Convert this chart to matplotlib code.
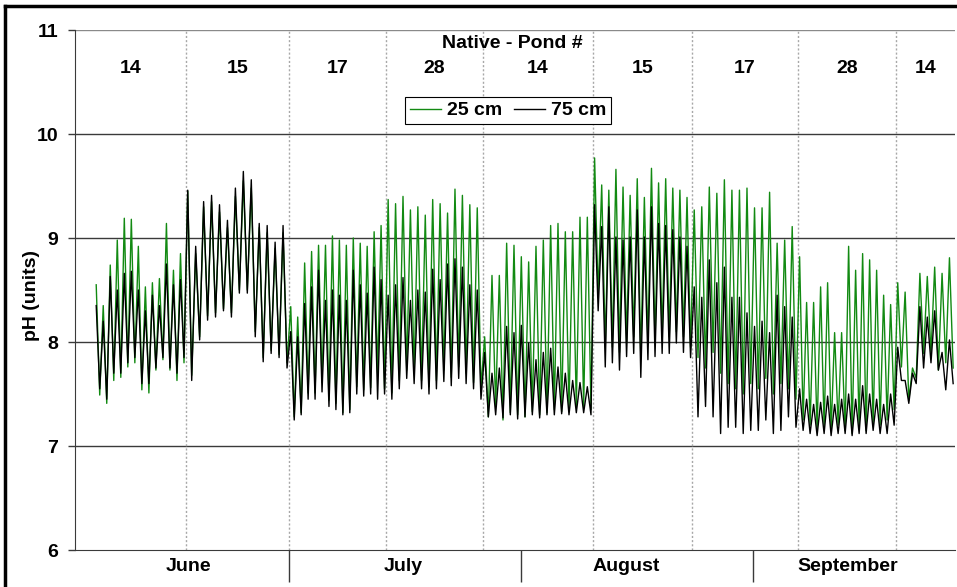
import matplotlib
matplotlib.use('Agg')
import matplotlib.pyplot as plt
import matplotlib.transforms as mtrans
from matplotlib.lines import Line2D

plt.rcParams['font.family'] = ['Liberation Sans', 'DejaVu Sans']
plt.rcParams['font.weight'] = 'bold'
plt.rcParams['font.size'] = 14

# time axis: days counted from July 1
x_range = (-28.6, 89.0)
pond_edges = [-26.0, -13.8, 0.0, 13.0, 25.9, 40.6, 53.9, 68.0, 81.1, 89.0]
pond_names = ['14', '15', '17', '28', '14', '15', '17', '28', '14']
month_names = ['June', 'July', 'August', 'September']
month_label_x = [-13.5, 15.2, 45.0, 74.7]
month_starts = [0, 31, 62]

# daily afternoon highs / dawn lows of pH, one list per pond deployment
hi_25 = [
    [8.55, 8.35, 8.74, 8.98, 9.19, 9.18, 8.92, 8.53, 8.57, 8.61, 9.14, 8.69, 8.85],
    [9.45, 8.85, 9.30, 9.35, 9.25, 9.10, 9.40, 9.55, 9.48, 9.10, 9.05, 8.90, 9.05],
    [8.34, 8.24, 8.76, 8.87, 8.93, 8.93, 9.02, 8.98, 8.93, 9.00, 8.95, 8.92, 9.06, 9.12],
    [9.37, 9.33, 9.40, 9.27, 9.30, 9.22, 9.37, 9.33, 9.24, 9.47, 9.41, 9.32, 9.29],
    [8.05, 8.64, 8.64, 8.95, 8.93, 8.82, 8.77, 8.92, 8.98, 9.12, 9.14, 9.06, 9.06, 9.20, 9.20],
    [9.77, 9.51, 9.46, 9.66, 9.49, 9.41, 9.57, 9.39, 9.67, 9.53, 9.57, 9.48, 9.46, 9.39],
    [9.27, 9.30, 9.49, 9.43, 9.56, 9.46, 9.46, 9.48, 9.29, 9.29, 9.44, 8.95, 8.98, 9.11],
    [8.82, 8.38, 8.38, 8.53, 8.57, 8.09, 8.09, 8.92, 8.69, 8.85, 8.79, 8.69, 8.45, 8.36],
    [8.57, 8.48, 7.75, 8.66, 8.63, 8.72, 8.66, 8.81],
]
lo_25 = [
    [7.49, 7.41, 7.63, 7.66, 7.76, 7.80, 7.54, 7.51, 7.73, 7.83, 7.73, 7.63, 7.80],
    [7.68, 8.05, 8.25, 8.28, 8.32, 8.28, 8.50, 8.50, 8.10, 7.85, 7.92, 7.88, 7.80],
    [7.28, 7.32, 7.51, 7.51, 7.61, 7.44, 7.41, 7.32, 7.35, 7.57, 7.54, 7.56, 7.70, 7.55],
    [7.51, 7.63, 7.73, 7.70, 7.63, 7.57, 7.63, 7.73, 7.66, 7.76, 7.70, 7.61, 7.55],
    [7.28, 7.38, 7.25, 7.32, 7.30, 7.28, 7.33, 7.30, 7.32, 7.35, 7.33, 7.36, 7.38, 7.38, 7.35],
    [8.45, 7.95, 7.95, 7.90, 8.00, 8.05, 7.85, 8.00, 8.00, 8.05, 8.05, 8.10, 8.05, 7.95],
    [7.85, 7.75, 7.90, 7.70, 7.60, 7.55, 7.50, 7.60, 7.55, 7.65, 7.50, 7.60, 7.55, 7.45],
    [7.25, 7.20, 7.15, 7.18, 7.15, 7.20, 7.15, 7.12, 7.18, 7.15, 7.20, 7.20, 7.25, 7.35],
    [7.76, 7.44, 7.65, 7.89, 7.89, 7.73, 7.80, 7.75],
]
hi_75 = [
    [8.35, 8.20, 8.63, 8.50, 8.66, 8.68, 8.50, 8.30, 8.45, 8.35, 8.75, 8.55, 8.60],
    [9.46, 8.92, 9.35, 9.41, 9.32, 9.17, 9.48, 9.64, 9.56, 9.14, 9.12, 8.96, 9.12],
    [8.10, 8.05, 8.37, 8.53, 8.69, 8.40, 8.50, 8.45, 8.40, 8.69, 8.55, 8.47, 8.72, 8.60],
    [8.45, 8.55, 8.62, 8.40, 8.50, 8.48, 8.70, 8.60, 8.75, 8.80, 8.72, 8.55, 8.50],
    [7.90, 7.70, 7.75, 8.15, 8.09, 8.16, 7.99, 7.83, 7.90, 7.94, 7.76, 7.70, 7.63, 7.61, 7.57],
    [9.32, 9.11, 9.30, 9.01, 8.98, 9.01, 9.27, 9.01, 9.30, 9.14, 9.12, 9.08, 9.01, 8.92],
    [8.53, 8.43, 8.79, 8.57, 8.72, 8.43, 8.43, 8.28, 8.15, 8.20, 8.09, 8.45, 8.34, 8.24],
    [7.55, 7.45, 7.40, 7.42, 7.48, 7.40, 7.45, 7.50, 7.45, 7.58, 7.50, 7.45, 7.40, 7.50],
    [7.95, 7.63, 7.70, 8.34, 8.24, 8.30, 7.90, 8.02],
]
lo_75 = [
    [7.55, 7.45, 7.70, 7.70, 7.80, 7.85, 7.60, 7.60, 7.75, 7.85, 7.75, 7.70, 7.85],
    [7.63, 8.02, 8.21, 8.24, 8.30, 8.24, 8.47, 8.47, 8.05, 7.81, 7.89, 7.85, 7.75],
    [7.25, 7.30, 7.45, 7.45, 7.52, 7.38, 7.35, 7.30, 7.32, 7.50, 7.48, 7.50, 7.45, 7.50],
    [7.45, 7.55, 7.65, 7.60, 7.55, 7.50, 7.55, 7.62, 7.58, 7.65, 7.60, 7.55, 7.45],
    [7.28, 7.30, 7.27, 7.30, 7.26, 7.28, 7.30, 7.27, 7.30, 7.30, 7.31, 7.30, 7.32, 7.32, 7.30],
    [8.30, 7.76, 7.80, 7.73, 7.86, 7.89, 7.66, 7.83, 7.86, 7.89, 7.89, 7.99, 7.90, 7.85],
    [7.28, 7.38, 7.28, 7.12, 7.18, 7.18, 7.12, 7.15, 7.15, 7.25, 7.12, 7.15, 7.28, 7.18],
    [7.15, 7.12, 7.10, 7.12, 7.10, 7.12, 7.12, 7.10, 7.12, 7.12, 7.15, 7.12, 7.12, 7.20],
    [7.63, 7.41, 7.60, 7.75, 7.80, 7.73, 7.54, 7.60],
]


def daily_series(hi, lo):
    """ lay the daily highs and lows of each deployment out over its dates"""
    t, v = [], []
    for k in range(len(hi)):
        a, b = pond_edges[k], pond_edges[k + 1]
        w = (b - a) / len(hi[k])
        for j in range(len(hi[k])):
            t += [a + (j + 0.25) * w, a + (j + 0.75) * w]
            v += [hi[k][j], lo[k][j]]
    return t, v


fig = plt.figure(figsize=(9.57, 5.87), dpi=100)
ax = fig.add_axes([75 / 957, 37 / 587, 880 / 957, 520 / 587])

t25, v25 = daily_series(hi_25, lo_25)
t75, v75 = daily_series(hi_75, lo_75)
ax.plot(t25, v25, color='#128a12', lw=1.0)
ax.plot(t75, v75, color='black', lw=1.0)

ax.set_xlim(*x_range)
ax.set_ylim(6, 11)
for y in [7, 8, 9, 10]:
    ax.axhline(y, color='#3a3a3a', lw=1, zorder=0)
ax.axhline(11, color='#8a8a8a', lw=1, zorder=0)
for e in pond_edges[1:-1]:
    ax.axvline(e, color='#a8a8a8', lw=1, ls=(0, (1.5, 1.5)), zorder=0)

for s in ['top', 'right']:
    ax.spines[s].set_visible(False)
ax.spines['left'].set_color('#3a3a3a')
ax.spines['bottom'].set_color('#3a3a3a')

ax.set_yticks([6, 7, 8, 9, 10, 11])
ax.tick_params(axis='y', length=5, width=1, pad=7, labelsize=14, color='#3a3a3a')
ax.set_ylabel('pH (units)', fontsize=14, fontweight='bold')
ax.yaxis.set_label_coords(-0.040, 0.49)

ax.set_xticks(month_starts)
ax.tick_params(axis='x', length=23, width=1, labelbottom=False, color='#3a3a3a')
trans = mtrans.blended_transform_factory(ax.transData, ax.transAxes)
for name, x in zip(month_names, month_label_x):
    ax.text(x, -0.031, name, transform=trans, ha='center', va='center', fontsize=14)

# pond numbers over each deployment
lims = [x_range[0]] + pond_edges[1:-1] + [x_range[1]]
for k, name in enumerate(pond_names):
    ax.text((lims[k] + lims[k + 1]) / 2, 10.63, name, ha='center', va='center', fontsize=14)
ax.text(29.8, 10.87, 'Native - Pond #', ha='center', va='center', fontsize=14)

handles = [Line2D([], [], color='#128a12', lw=1), Line2D([], [], color='black', lw=1)]
leg = ax.legend(handles, ['25 cm', '75 cm'], ncol=2, loc='center',
                bbox_to_anchor=(508 / 957, 1 - 110.5 / 587), bbox_transform=fig.transFigure,
                fancybox=False, framealpha=1, edgecolor='black', borderpad=0.25,
                handlelength=1.6, handletextpad=0.3, columnspacing=0.6, prop={'size': 14, 'weight': 'bold'})
leg.get_frame().set_linewidth(0.8)

# outer frame of the chart area
fig.add_artist(Line2D([5 / 957, 5 / 957], [0, 1 - 6 / 587], transform=fig.transFigure, color='black', lw=2.5))
fig.add_artist(Line2D([5 / 957, 1], [1 - 6 / 587, 1 - 6 / 587], transform=fig.transFigure, color='black', lw=2.5))

fig.savefig('out.png', dpi=100)
